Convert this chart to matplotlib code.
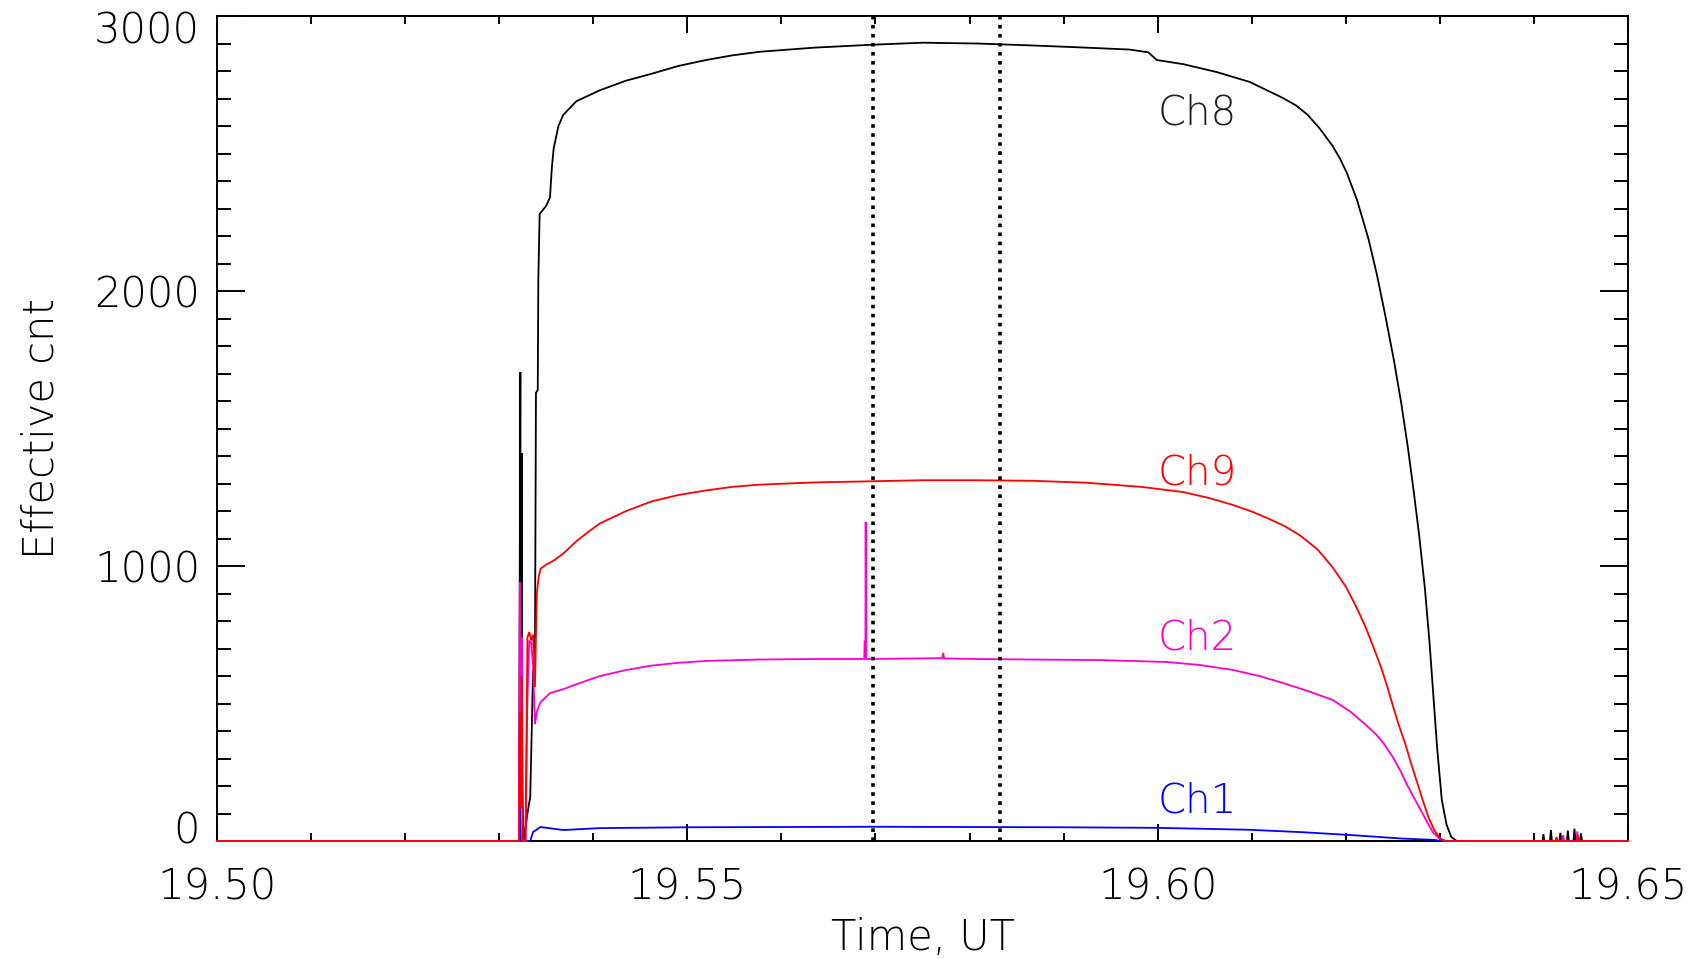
import matplotlib
matplotlib.use("Agg")
import matplotlib.pyplot as plt
from matplotlib.ticker import MultipleLocator, FormatStrFormatter
from matplotlib.transforms import ScaledTranslation

plt.rcParams['font.family'] = ['DejaVu Sans']
plt.rcParams['font.weight'] = 'light'
plt.rcParams['axes.labelweight'] = 'light'

# ---- light-curve samples (time in UT hours, effective counts) ----
t_ch8 = [
    19.5000, 19.5321, 19.53225, 19.5323, 19.5324, 19.53245, 19.5326,
    19.5330, 19.5333, 19.5336, 19.5338, 19.53391, 19.5341, 19.53416, 19.5343,
    19.5350, 19.5354, 19.5356, 19.5358, 19.5363, 19.5368, 19.5382, 19.5407,
    19.5435, 19.5462, 19.5490, 19.5520, 19.5548, 19.5577, 19.5635, 19.5693,
    19.5750, 19.5808, 19.5866, 19.5924, 19.5970, 19.5990, 19.5999, 19.6027,
    19.6063, 19.6098, 19.6133, 19.6147, 19.6159, 19.6172, 19.6186, 19.6194,
    19.6201, 19.6212, 19.6224,
    19.6233, 19.6242, 19.6251, 19.6259, 19.6266, 19.6272, 19.6278, 19.6284,
    19.6289, 19.6293, 19.6297, 19.6302, 19.6307, 19.6312, 19.6318,
    19.6409, 19.6410, 19.6411, 19.6417, 19.6418, 19.6419, 19.6427, 19.6428,
    19.6429, 19.6435, 19.6436, 19.6437, 19.6442, 19.6443, 19.6444, 19.6449,
    19.6450, 19.6451, 19.6500]
cnt_ch8 = [
    0, 0, 1705, 250, 1410, 200, 0,
    100, 160, 615, 640, 1630, 1640, 2040, 2280,
    2310, 2340, 2450, 2520, 2600, 2640, 2690, 2730,
    2765, 2790, 2818, 2840, 2857, 2870, 2885, 2895,
    2903, 2900, 2893, 2885, 2878, 2868, 2840, 2825,
    2796, 2760, 2702, 2675, 2642, 2592, 2527, 2480,
    2430, 2330, 2190,
    2060, 1910, 1750, 1590, 1430, 1275, 1110, 920,
    720, 530, 340, 150, 60, 15, 0,
    0, 25, 0, 0, 40, 0, 0, 30,
    0, 0, 38, 0, 0, 45, 0, 0,
    28, 0, 0]

t_ch9 = [
    19.5000, 19.5321, 19.53215, 19.5322, 19.5323, 19.5324, 19.5325,
    19.5328, 19.5330, 19.5332, 19.5334, 19.5336, 19.5338, 19.5340, 19.5342,
    19.5344, 19.5350, 19.5358, 19.5368, 19.5382, 19.5395, 19.5407, 19.5435,
    19.5462, 19.5490, 19.5520, 19.5548, 19.5577, 19.5635, 19.5693, 19.5750,
    19.5808, 19.5866, 19.5924, 19.5982, 19.6027, 19.6055, 19.6080, 19.6100,
    19.6116, 19.6135, 19.6151, 19.6170, 19.6186, 19.6200, 19.6212, 19.6221,
    19.6229, 19.6237, 19.6244, 19.6250, 19.6256, 19.6263, 19.6270, 19.6277,
    19.6283, 19.6288, 19.6294, 19.6300, 19.6306,
    19.6423, 19.6424, 19.6425, 19.6446, 19.6447, 19.6448, 19.6500]
cnt_ch9 = [
    0, 0, 300, 470, 120, 600, 0,
    0, 740, 760, 730, 750, 560, 900, 960,
    990, 1005, 1020, 1045, 1090, 1125, 1155, 1200,
    1235, 1258, 1275, 1288, 1296, 1304, 1308, 1312,
    1312, 1310, 1303, 1288, 1269, 1247, 1222, 1198,
    1175, 1145, 1112, 1060, 995, 925, 845, 778,
    708, 636, 562, 492, 425, 355, 275, 200,
    135, 85, 40, 10, 0,
    0, 15, 0, 0, 20, 0, 0]

t_ch2 = [
    19.5000, 19.5321, 19.53215, 19.5322, 19.5323, 19.5324, 19.5325,
    19.5328, 19.5330, 19.5332, 19.5334, 19.5336, 19.5338, 19.5340, 19.5344,
    19.5354, 19.5368, 19.5382, 19.5407, 19.5435, 19.5462, 19.5490, 19.5520,
    19.5577, 19.5635, 19.5688, 19.56885, 19.56893, 19.56896, 19.5690, 19.5771,
    19.5772, 19.5773, 19.5808, 19.5866, 19.5939, 19.6010, 19.6045, 19.6080,
    19.6108, 19.6133, 19.6160, 19.6186, 19.6205, 19.6222, 19.6232, 19.6240,
    19.6250, 19.6258, 19.6265, 19.6272, 19.6280, 19.6287, 19.6293, 19.6299,
    19.6305,
    19.6430, 19.6431, 19.6432, 19.6445, 19.6446, 19.6447, 19.6500]
cnt_ch2 = [
    0, 0, 500, 940, 200, 740, 0,
    0, 520, 730, 720, 640, 425, 470, 505,
    538, 552, 570, 600, 622, 638, 648, 655,
    660, 662, 662, 725, 725, 1160, 662, 665,
    684, 664, 662, 660, 658, 651, 640, 622,
    600, 575, 545, 513, 470, 420, 388, 356,
    305, 255, 205, 160, 110, 65, 30, 10,
    0,
    0, 22, 0, 0, 35, 0, 0]

t_ch1 = [19.5000, 19.5321, 19.5322, 19.5323, 19.5333, 19.5336, 19.5344,
         19.5368, 19.5407, 19.5500, 19.5700, 19.5900, 19.6000, 19.6097,
         19.6155, 19.6204, 19.6230, 19.6260, 19.6295, 19.6300, 19.6500]
cnt_ch1 = [0, 0, 130, 0, 0, 33, 51,
           40, 47, 50, 52, 50, 48, 41,
           32, 22, 16, 9, 4, 0, 0]

channel_names = ['Ch8', 'Ch9', 'Ch2', 'Ch1']
label_counts = [2604, 1298, 695, 102]     # baseline heights of the channel tags
label_time = 19.6000
interval_times = [19.5697, 19.5832]       # dotted interval markers

x_ticks_fmt = '%.2f'

# ---- figure ----
fig = plt.figure(figsize=(17.03, 9.59), dpi=100)
ax = fig.add_axes([0.1274, 0.1230, 0.8286, 0.8603])

colors = {'Ch8': '#000000', 'Ch9': '#ff0000', 'Ch2': '#ff00cc', 'Ch1': '#0000ff'}
text_colors = {'Ch8': '#202020', 'Ch9': '#ff0000', 'Ch2': '#ff00cc', 'Ch1': '#0000ff'}

series = {'Ch8': (t_ch8, cnt_ch8), 'Ch1': (t_ch1, cnt_ch1),
          'Ch2': (t_ch2, cnt_ch2), 'Ch9': (t_ch9, cnt_ch9)}
for name in ['Ch8', 'Ch1', 'Ch2', 'Ch9']:
    t, c = series[name]
    ax.plot(t, c, color=colors[name], lw=1.3, zorder=3, clip_on=False,
            solid_joinstyle='miter')

for tm in interval_times:
    ax.axvline(tm, color='black', lw=2.6, linestyle=(0, (1, 1.5)), zorder=4)

for name, yv in zip(channel_names, label_counts):
    ax.text(label_time, yv, name, color=text_colors[name], fontsize=29,
            fontweight='light', ha='left', va='baseline', zorder=5)

ax.set_xlim(19.50, 19.65)
ax.set_ylim(0, 3000)

ax.xaxis.set_major_locator(MultipleLocator(0.05))
ax.xaxis.set_minor_locator(MultipleLocator(0.01))
ax.xaxis.set_major_formatter(FormatStrFormatter(x_ticks_fmt))
ax.yaxis.set_major_locator(MultipleLocator(1000))
ax.yaxis.set_minor_locator(MultipleLocator(100))

ax.tick_params(axis='both', which='both', direction='in', top=True, right=True,
               width=1.4, color='black', labelsize=30)
ax.tick_params(axis='x', which='major', length=11.9, pad=18.5)
ax.tick_params(axis='x', which='minor', length=6.0)
ax.tick_params(axis='y', which='major', length=20.2, pad=12.2)
ax.tick_params(axis='y', which='minor', length=10.0)

for sp in ax.spines.values():
    sp.set_linewidth(1.4)
    sp.set_zorder(2.5)

ax.set_xlabel('Time, UT', fontsize=30, fontweight='light')
ax.set_ylabel('Effective cnt', fontsize=30, fontweight='light')
ax.xaxis.set_label_coords(0.5, -0.092)
ax.yaxis.set_label_coords(-0.11, 0.5)

# pull the end labels of the count axis inward
fig.canvas.draw()
for tick in ax.yaxis.get_major_ticks():
    loc = tick.get_loc()
    if abs(loc - 0) < 1e-6:
        tick.label1.set_transform(tick.label1.get_transform() +
                                  ScaledTranslation(0, 10 / 72, fig.dpi_scale_trans))
    elif abs(loc - 3000) < 1e-6:
        tick.label1.set_transform(tick.label1.get_transform() +
                                  ScaledTranslation(0, -8 / 72, fig.dpi_scale_trans))

fig.savefig('out.png', dpi=100)
